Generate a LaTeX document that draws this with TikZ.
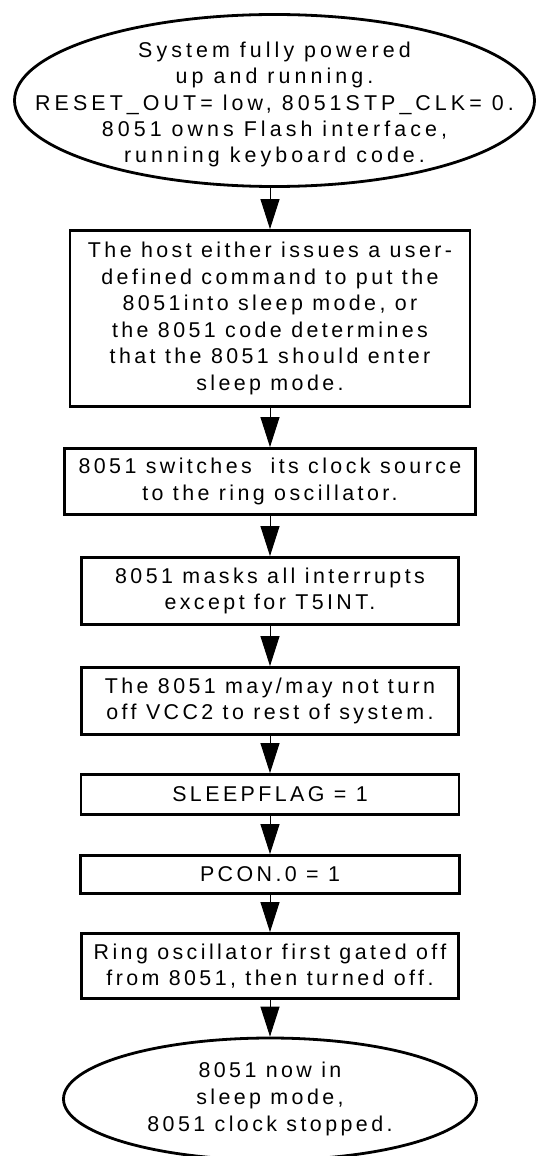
\documentclass[tikz,border=0pt]{standalone}
\usepackage{fontspec}
\setmainfont{Liberation Sans}[LetterSpace=16]
\usetikzlibrary{shapes.geometric,arrows.meta}
\begin{document}
\begin{tikzpicture}[x=0.5pt,y=-0.5pt,
  font=\fontsize{10.7pt}{13.3pt}\selectfont,
  every node/.style={align=center,inner sep=0pt},
  term/.style={draw,ellipse,line width=1.4pt},
  proc/.style={draw,rectangle,line width=1.4pt},
  flow/.style={-{Triangle[width=9.5pt,length=15pt]},line width=0.5pt}]
\useasboundingbox (0,0) rectangle (538,1156);
\node[term,minimum width=260pt,minimum height=86pt] (start) at (274.5,100.5) {};
\node[font=\fontsize{10.7pt}{13.2pt}\selectfont\addfontfeature{LetterSpace=19}] (starttxt) at (274.5,104.5) {System fully powered\\ up and running.\\ RESET\_OUT= low, 8051STP\_CLK= 0.\\ 8051 owns Flash interface,\\ running keyboard code.};
\node[proc,minimum width=200pt,minimum height=88pt] (host) at (270,318.5) {The host either issues a user-\\ defined command to put the\\ 8051into sleep mode, or\\ the 8051 code determines\\ that the 8051 should enter\\ sleep mode.};
\node[proc,minimum width=205.5pt,minimum height=33pt] (clock) at (270,481.5) {8051 switches~ its clock source\\ to the ring oscillator.};
\node[proc,minimum width=188.5pt,minimum height=33.5pt] (mask) at (270,591) {8051 masks all interrupts\\ except for T5INT.};
\node[proc,minimum width=188.5pt,minimum height=33.5pt] (vcc) at (270,701) {The 8051 may/may not turn\\ off VCC2 to rest of system.};
\node[proc,minimum width=189pt,minimum height=20pt] (flag) at (270,794.5) {SLEEPFLAG = 1};
\node[proc,minimum width=189.5pt,minimum height=19pt] (pcon) at (270,874.5) {PCON.0 = 1};
\node[proc,minimum width=188.5pt,minimum height=32.5pt] (ring) at (270,966) {Ring oscillator first gated off\\ from 8051, then turned off.};
\node[term,minimum width=206.5pt,minimum height=61pt] (stop) at (270,1099) {8051 now in\\ sleep mode,\\ 8051 clock stopped.};
\draw[flow] (start.south -| host.north) -- (host);
\draw[flow] (host) -- (clock);
\draw[flow] (clock) -- (mask);
\draw[flow] (mask) -- (vcc);
\draw[flow] (vcc) -- (flag);
\draw[flow] (flag) -- (pcon);
\draw[flow] (pcon) -- (ring);
\draw[flow] (ring) -- (stop);
\end{tikzpicture}
\end{document}
